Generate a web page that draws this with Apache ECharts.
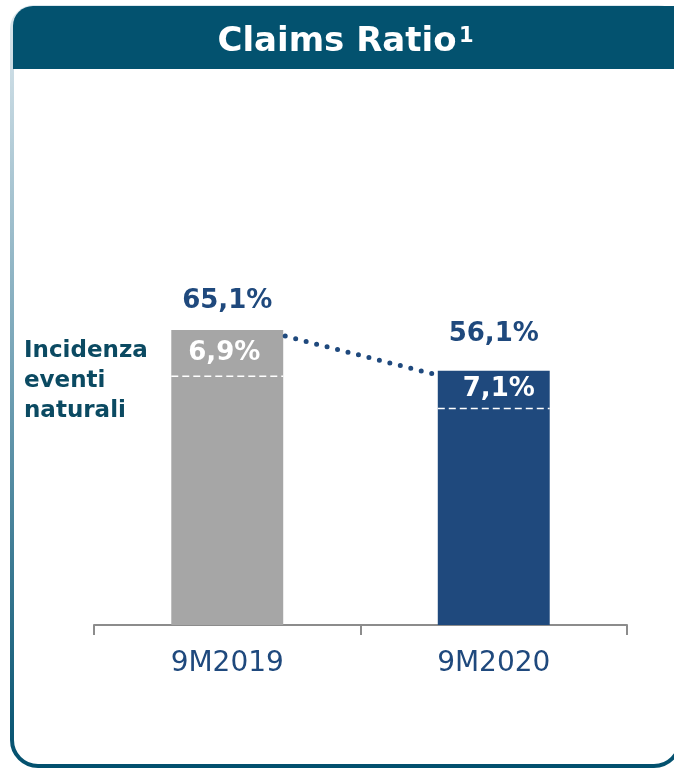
<!DOCTYPE html>
<html>
<head>
<meta charset="utf-8">
<script src="https://cdn.jsdelivr.net/npm/echarts@6/dist/echarts.min.js"></script>
<style>
  html, body { margin: 0; padding: 0; background: #fff; }
  #claimsChart { width: 674px; height: 769px; }
</style>
</head>
<body>
<div id="claimsChart"></div>
<script>
// values
var categories = ["9M2019", "9M2020"];
var claimsRatio = [65.1, 56.1];
var claimsLabels = ["65,1%", "56,1%"];
var naturalEvents = [6.9, 7.1];
var naturalLabels = ["6,9%", "7,1%"];
// level where the dashed separator is drawn inside each bar
var dashLevel = [54.9, 47.8];
var barColors = ["#a6a6a6", "#1f497d"];
var labelGap = [16, 24];

var FONT = "DejaVu Sans";
var BAR_RATIO = 0.42;

var chart = echarts.init(document.getElementById("claimsChart"));

var option = {
  animation: false,
  textStyle: { fontFamily: FONT },
  grid: { left: 94, right: 47, top: 172, bottom: 144 },
  xAxis: {
    type: "category",
    data: categories,
    axisLine: { lineStyle: { color: "#8c8c8c", width: 2 } },
    axisTick: { show: true, length: 10, lineStyle: { color: "#8c8c8c", width: 2 } },
    axisLabel: { color: "#1f497d", fontSize: 28, fontFamily: FONT, margin: 25 }
  },
  yAxis: { type: "value", min: 0, max: 100, show: false },
  graphic: [
    {
      // card frame with fading left border
      type: "rect",
      z: -10,
      shape: { x: 12, y: 7, width: 668, height: 759, r: [22, 22, 26, 26] },
      style: {
        fill: "#fff",
        lineWidth: 4,
        stroke: new echarts.graphic.LinearGradient(0, 0, 0, 1, [
          { offset: 0, color: "#dde8ee" },
          { offset: 0.5, color: "#6f9fb3" },
          { offset: 1, color: "#02506e" }
        ])
      }
    },
    {
      type: "rect",
      z: -9,
      shape: { x: 13, y: 6, width: 680, height: 63, r: [20, 0, 0, 0] },
      style: { fill: "#03526f" }
    },
    {
      type: "text",
      x: 337,
      y: 42,
      style: {
        text: "Claims Ratio",
        fill: "#fff",
        font: "bold 34px '" + FONT + "'",
        align: "center",
        verticalAlign: "middle"
      }
    },
    {
      type: "text",
      x: 459,
      y: 26,
      style: {
        text: "1",
        fill: "#fff",
        font: "bold 21px '" + FONT + "'",
        align: "left",
        verticalAlign: "top"
      }
    },
    {
      type: "text",
      left: 24,
      top: 336,
      style: {
        text: "Incidenza\neventi\nnaturali",
        fill: "#0b4a62",
        font: "bold 23px '" + FONT + "'",
        lineHeight: 30
      }
    }
  ],
  series: [
    {
      type: "bar",
      barWidth: BAR_RATIO * 100 + "%",
      data: claimsRatio.map(function (v, i) {
        return {
          value: v,
          itemStyle: { color: barColors[i] },
          label: {
            show: true,
            position: "top",
            distance: labelGap[i],
            formatter: claimsLabels[i],
            color: "#1f497d",
            fontSize: 26,
            fontWeight: "bold",
            fontFamily: FONT
          }
        };
      })
    },
    {
      // dashed separator and inner value of the natural events share
      type: "custom",
      silent: true,
      z: 5,
      data: categories.map(function (c, i) {
        return [i, claimsRatio[i], dashLevel[i], naturalEvents[i]];
      }),
      renderItem: function (params, api) {
        var i = api.value(0);
        var top = api.coord([i, api.value(1)]);
        var dash = api.coord([i, api.value(2)]);
        var half = api.size([1, 0])[0] * BAR_RATIO / 2;
        return {
          type: "group",
          children: [
            {
              type: "line",
              shape: { x1: dash[0] - half, y1: dash[1], x2: dash[0] + half, y2: dash[1] },
              style: { stroke: "#fff", lineWidth: 1.5, lineDash: [7, 4] }
            },
            {
              type: "text",
              x: top[0] + (i === 1 ? 5 : -3),
              y: (top[1] + dash[1]) / 2,
              style: {
                text: naturalLabels[i],
                fill: "#fff",
                font: "bold 26px '" + FONT + "'",
                align: "center",
                verticalAlign: "middle"
              }
            }
          ]
        };
      }
    },
    {
      // dotted connector between the two bar tops
      type: "custom",
      silent: true,
      z: 6,
      data: [[0, claimsRatio[0], 1, claimsRatio[1]]],
      renderItem: function (params, api) {
        var half = api.size([1, 0])[0] * BAR_RATIO / 2;
        var a = api.coord([api.value(0), api.value(1)]);
        var b = api.coord([api.value(2), api.value(3)]);
        return {
          type: "line",
          shape: { x1: a[0] + half + 2, y1: a[1] + 6, x2: b[0] - half - 5, y2: b[1] + 3 },
          style: { stroke: "#1f497d", lineWidth: 5, lineCap: "round", lineDash: [0, 10.8] }
        };
      }
    }
  ]
};

chart.setOption(option);
</script>
</body>
</html>
